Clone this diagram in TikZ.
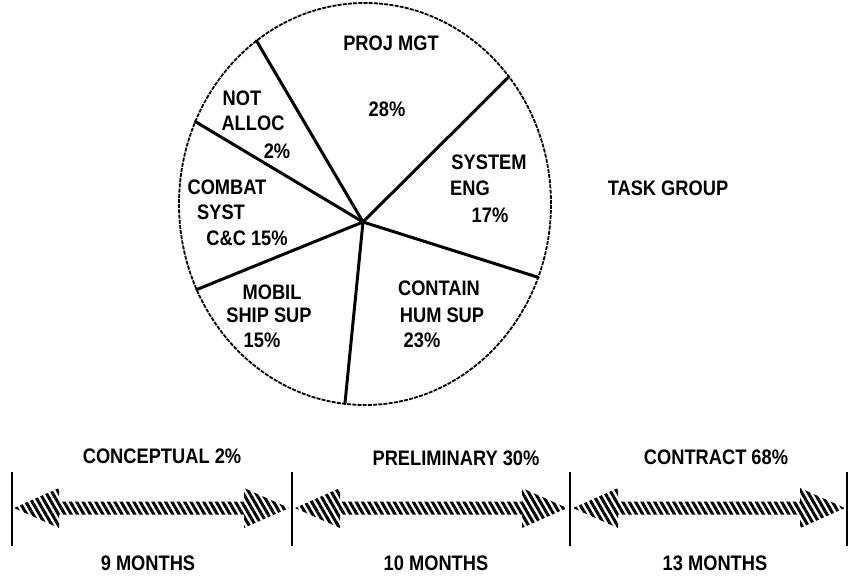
\documentclass[tikz,border=0pt]{standalone}
\usepackage{fontspec}
\setmainfont{Liberation Sans}[FakeStretch=0.87]
\usetikzlibrary{patterns.meta}

\begin{document}
\begin{tikzpicture}[x=1pt,y=1pt,
    lbl/.style={font=\fontsize{21}{23}\selectfont\bfseries,inner sep=0pt},
    rim/.style={line width=1.8pt,dash pattern=on 4pt off 1.2pt},
    spoke/.style={line width=3pt},
    tick/.style={line width=1.4pt},
    hatch/.style={pattern={Lines[angle=-60,distance=5.5pt,line width=3pt]}}]
                \useasboundingbox (0,-578) rectangle (849,0);
                \coordinate (c) at (365,-204);
                \coordinate (hub) at (363,-222);
                \draw[rim] (c) ellipse [x radius=186, y radius=201];
                \foreach \t in {125.7,39.3,-21.4,-96.2,205.2,155.8}{
                    \draw[spoke,line cap=round] (hub) -- ([shift={(\t:186 and 201)}]c);
                }
                \foreach \x/\y/\txt [count=\i] in {391/43/PROJ MGT, 387/109/28\%,
                        242/98/NOT, 253/123/ALLOC, 277/151/2\%,
                        489/162/SYSTEM, 470/188/ENG, 490/215/17\%,
                        227/187/COMBAT, 221/212/SYST, 247/238/C\&C 15\%,
                        272/292/MOBIL, 269/315/SHIP SUP, 262/340/15\%,
                        439/288/CONTAIN, 442/315/HUM SUP, 422/340/23\%}{
                    \node[lbl] (pie\i) at (\x,-\y) {\txt};
                }
                \node[lbl] (group) at (668,-188) {TASK GROUP};
                \foreach \x [count=\i] in {12,292,570,847}{
                    \draw[tick] (\x,-472) coordinate (top\i) -- (\x,-546) coordinate (bot\i);
                }
                \foreach \a/\b in {14/289,295/567,573/845}{
                    \fill[hatch] (\a,-508) -- (\a+45,-488) -- (\a+45,-501.5) -- (\b-45,-501.5)
                        -- (\b-45,-488) -- (\b,-508) -- (\b-45,-528) -- (\b-45,-514.5)
                        -- (\a+45,-514.5) -- (\a+45,-528) -- cycle;
                }
                \node[lbl] (phase1) at (162,-456) {CONCEPTUAL 2\%};
                \node[lbl] (phase2) at (456,-458) {PRELIMINARY 30\%};
                \node[lbl] (phase3) at (716,-457) {CONTRACT 68\%};
                \node[lbl] (time1) at (148,-563) {9 MONTHS};
                \node[lbl] (time2) at (436,-563) {10 MONTHS};
                \node[lbl] (time3) at (715,-563) {13 MONTHS};
\end{tikzpicture}
\end{document}
